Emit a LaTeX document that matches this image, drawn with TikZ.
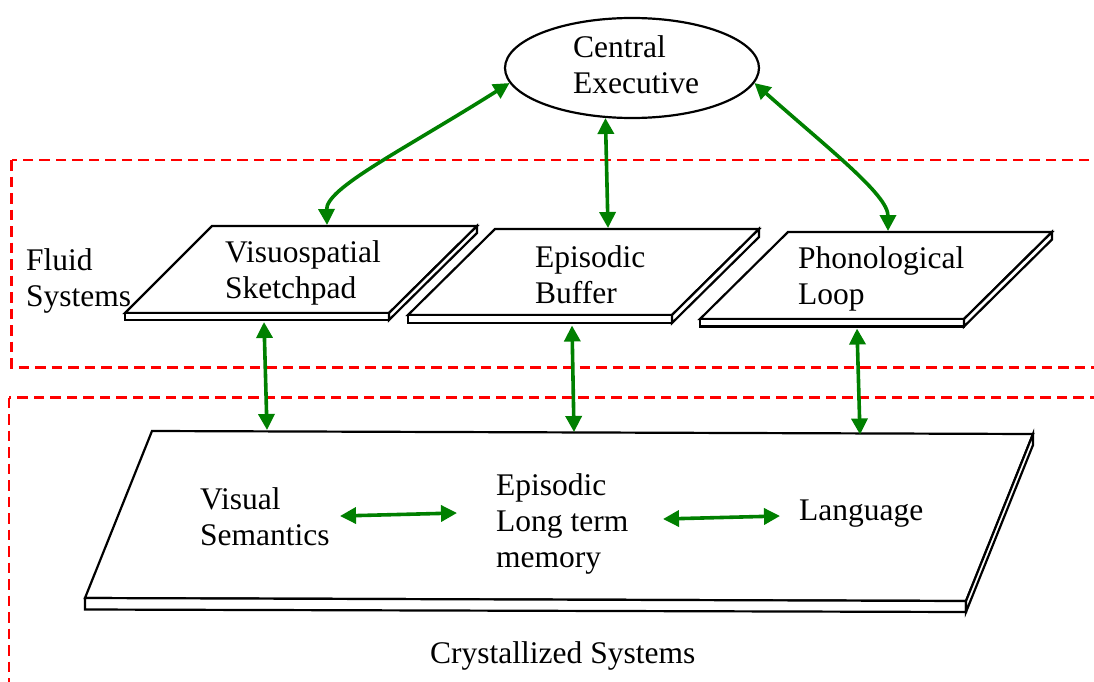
\documentclass[tikz,border=0pt]{standalone}
\usepackage{fontspec}
\setmainfont{Liberation Serif}
\usetikzlibrary{arrows.meta,shapes.geometric}
\definecolor{linkgreen}{RGB}{0,128,0}
\definecolor{zonered}{RGB}{255,0,0}
\newcommand{\txtlines}[1]{\begin{tabular}[t]{@{}l@{}}#1\end{tabular}}
\begin{document}
\begin{tikzpicture}[x=1pt,y=-1pt,
  tx/.style={anchor=base west, inner sep=0pt, font=\fontsize{31.5}{36}\selectfont},
  slab/.style={draw=black, line width=2.2pt, fill=white, line join=miter},
  zone/.style={draw=zonered, line width=2.4pt, dash pattern=on 10.5pt off 6pt},
  link/.style={draw=linkgreen, line width=3.6pt,
    {Triangle[length=16pt,width=16pt]}-{Triangle[length=16pt,width=16pt]}}]

\useasboundingbox (0,0) rectangle (1094,682);
\clip (0,0) rectangle (1094,682);

% system zones
\draw[zone] (11.5,160) rectangle (1110,367.5);
\draw[zone] (9,397.5) rectangle (1110,700);

% central executive
\node[draw, ellipse, line width=2.2pt, minimum width=254pt, minimum height=100pt, inner sep=0pt] (ce) at (632,68) {};
\node[tx] (ce-t) at (573,58) {\txtlines{Central\\Executive}};

% visuospatial sketchpad platform
\draw[slab] (212,226) -- (477,226) -- (389,313) -- (125,313) -- cycle;
\draw[slab] (125,313) rectangle (389,320);
\draw[slab] (389,313) -- (477,226) -- (477,233) -- (389,320) -- cycle;
\node[tx] (vs-t) at (225,262) {\txtlines{Visuospatial\\Sketchpad}};

% episodic buffer platform
\draw[slab] (495,229) -- (759,229) -- (672,315) -- (408,315) -- cycle;
\draw[slab] (408,315) rectangle (672,323);
\draw[slab] (672,315) -- (759,229) -- (759,237) -- (672,323) -- cycle;
\node[tx] (eb-t) at (535,267) {\txtlines{Episodic\\Buffer}};

% phonological loop platform
\draw[slab] (788,232) -- (1052,232) -- (964,319) -- (700,319) -- cycle;
\draw[slab] (700,319) rectangle (964,326.5);
\draw[slab] (964,319) -- (1052,232) -- (1052,239.5) -- (964,326.5) -- cycle;
\node[tx] (pl-t) at (798,268) {\txtlines{Phonological\\Loop}};

% long term platform
\draw[slab] (152,431) -- (1033,434) -- (966,601) -- (85,598) -- cycle;
\draw[slab] (85,598) -- (966,601) -- (966,612) -- (85,609.5) -- cycle;
\draw[slab] (966,601) -- (1033,434) -- (1033,445) -- (966,612) -- cycle;

% labels
\node[tx] (fl-t) at (26,270) {\txtlines{Fluid\\Systems}};
\node[tx] (vsem) at (200,509) {\txtlines{Visual\\Semantics}};
\node[tx] (elt) at (496,495) {\txtlines{Episodic\\Long term\\memory}};
\node[tx] (lang) at (799,520) {Language};
\node[tx] (cr-t) at (430,663) {Crystallized Systems};

% connector ends
\coordinate (vs-n) at (327,225);
\coordinate (vs-s) at (264,322);
\coordinate (eb-n) at (608,228);
\coordinate (eb-s) at (572,325.5);
\coordinate (pl-n) at (888,231);
\coordinate (pl-s) at (857,328.5);
\coordinate (lt-vs) at (267,430);
\coordinate (lt-eb) at (574,432);
\coordinate (lt-pl) at (860,434.5);
\coordinate (vsem-e) at (340,516);
\coordinate (elt-w) at (457,513);
\coordinate (elt-e) at (663,519);
\coordinate (lang-w) at (780,516);

% links
\draw[link] (ce.187) .. controls (400,152) and (326,188) .. (vs-n);
\draw[link] (ce.242) -- (eb-n);
\draw[link] (ce.353) .. controls (830,150) and (888,195) .. (pl-n);
\draw[link] (vs-s) -- (lt-vs);
\draw[link] (eb-s) -- (lt-eb);
\draw[link] (pl-s) -- (lt-pl);
\draw[link] (vsem-e) -- (elt-w);
\draw[link] (elt-e) -- (lang-w);
\end{tikzpicture}
\end{document}
